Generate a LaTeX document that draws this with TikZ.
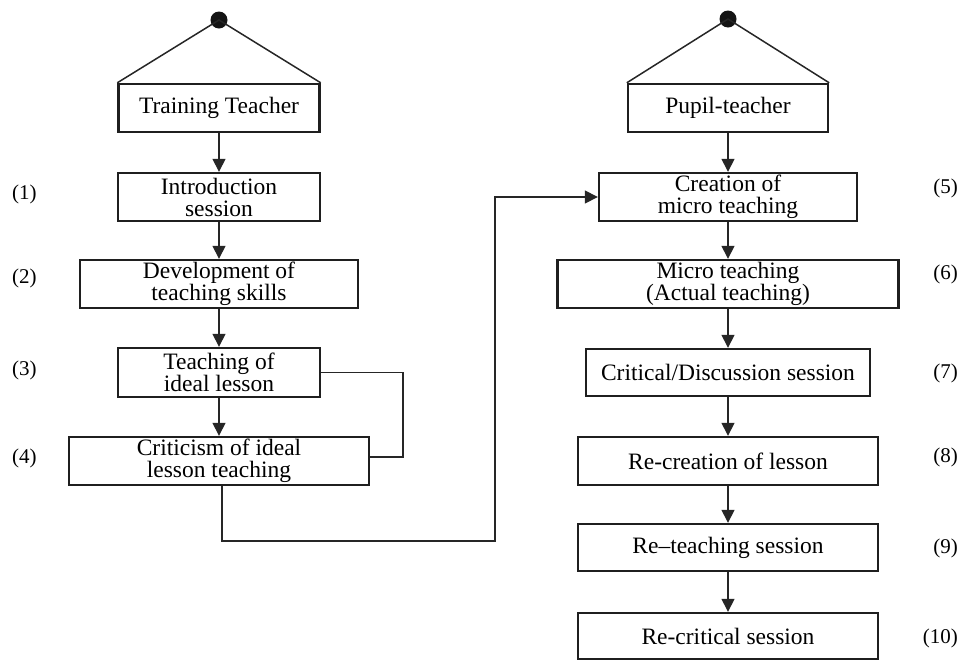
\documentclass[tikz,border=0pt]{standalone}
\usepackage{fontspec}
\setmainfont{Liberation Serif}
\usetikzlibrary{arrows.meta}
\begin{document}
\begin{tikzpicture}[x=1pt,y=-1pt,
  box/.style={draw=black!88, line width=2.4pt, align=center, inner sep=0pt,
    font=\fontsize{23.5}{22}\selectfont},
  lbl/.style={inner sep=0pt, font=\fontsize{21}{22}\selectfont},
  conn/.style={draw=black!85, line width=1.5pt},
  arr/.style={conn, -{Triangle[length=13pt,width=13pt]}},
  dotnode/.style={circle, fill=black!92, inner sep=0pt, minimum size=17pt}]
\useasboundingbox (0,0) rectangle (967,662);

% left column
\node[dotnode] (d1) at (219,20) {};
\node[box, minimum width=201pt, minimum height=48pt] (tt) at (219,108) {Training Teacher};
\node[box, minimum width=202pt, minimum height=48pt] (intro) at (219,197) {Introduction\\session};
\node[box, minimum width=278pt, minimum height=48pt] (dev) at (219,284) {Development of\\teaching skills};
\node[box, minimum width=202pt, minimum height=49pt] (teach) at (219,372.5) {Teaching of\\ideal lesson};
\node[box, minimum width=300pt, minimum height=48pt] (crit) at (219,461) {Criticism of ideal\\lesson teaching};

% right column
\node[dotnode] (d2) at (728,19) {};
\node[box, minimum width=200pt, minimum height=48pt] (pt) at (728,108) {Pupil-teacher};
\node[box, minimum width=258pt, minimum height=48pt] (create) at (728,197) {Creation of\\micro teaching};
\node[box, minimum width=341pt, minimum height=48pt] (micro) at (728,284) {Micro teaching\\(Actual teaching)};
\node[box, minimum width=284pt, minimum height=47pt] (critd) at (728,372.5) {Critical/Discussion session};
\node[box, minimum width=300pt, minimum height=48pt] (recr) at (728,461) {Re-creation of lesson};
\node[box, minimum width=300pt, minimum height=47pt] (reteach) at (728,547.5) {Re–teaching session};
\node[box, minimum width=300pt, minimum height=46pt] (recrit) at (728,636) {Re-critical session};

% labels
\node[lbl, anchor=west] (n1) at (12,194) {(1)};
\node[lbl, anchor=west] (n2) at (12,278) {(2)};
\node[lbl, anchor=west] (n3) at (12,370) {(3)};
\node[lbl, anchor=west] (n4) at (12,458) {(4)};
\node[lbl, anchor=east] (n5) at (958,188) {(5)};
\node[lbl, anchor=east] (n6) at (958,274) {(6)};
\node[lbl, anchor=east] (n7) at (958,373) {(7)};
\node[lbl, anchor=east] (n8) at (958,457) {(8)};
\node[lbl, anchor=east] (n9) at (958,548) {(9)};
\node[lbl, anchor=east] (n10) at (958,638) {(10)};

% triangles
\draw[conn] (tt.north west) -- (d1.center) -- (tt.north east);
\draw[conn] (pt.north west) -- (d2.center) -- (pt.north east);

% vertical arrows
\draw[arr] (tt) -- (intro);
\draw[arr] (intro) -- (dev);
\draw[arr] (dev) -- (teach);
\draw[arr] (teach) -- (crit);
\draw[arr] (pt) -- (create);
\draw[arr] (create) -- (micro);
\draw[arr] (micro) -- (critd);
\draw[arr] (critd) -- (recr);
\draw[arr] (recr) -- (reteach);
\draw[arr] (reteach) -- (recrit);

% loop from (3) to (4)
\draw[conn] (teach.east) -- ++(82,0) |- ([yshift=4pt]crit.east);

% connector from (4) to (5)
\draw[arr] ([xshift=3pt]crit.south) |- (495,541) |- (create.west);
\end{tikzpicture}
\end{document}
